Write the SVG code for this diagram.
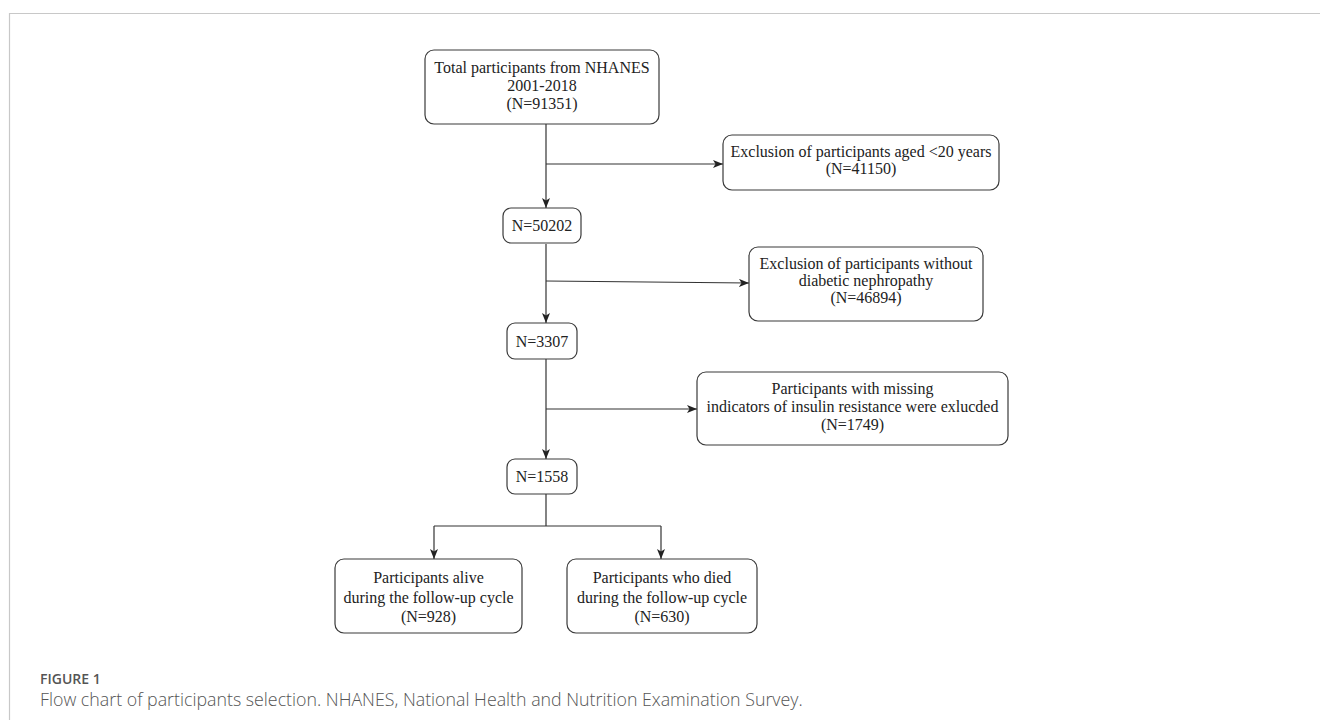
<svg xmlns="http://www.w3.org/2000/svg" width="1320" height="720" viewBox="0 0 1320 720">
<style>
.box{fill:#fff;stroke:#3a3a3a;stroke-width:1.2}
.t{font-family:"Liberation Serif","Times New Roman",serif;font-size:16px;fill:#222;text-anchor:middle}
.c{fill:none;stroke:#333;stroke-width:1.2}
.frame{fill:none;stroke:#c8c8c8;stroke-width:1.2}
.fig{font-family:"Open Sans","Liberation Sans",sans-serif;font-size:14px;font-weight:600;fill:#555}
.cap{font-family:"Open Sans","Liberation Sans",sans-serif;font-size:17.8px;font-weight:300;fill:#555}
</style>
<defs>
<marker id="arr" viewBox="0 0 10 8" refX="10" refY="4" markerWidth="10" markerHeight="8" markerUnits="userSpaceOnUse" orient="auto">
<path d="M0,0 L10,4 L0,8 L2.5,4 z" fill="#222"/>
</marker>
</defs>
<rect width="1320" height="720" fill="#fff"/>
<path class="frame" d="M9.5,720 V13.5 H1320"/>

<g id="connectors">
<line class="c" x1="546" y1="124" x2="546" y2="208" marker-end="url(#arr)"/>
<line class="c" x1="546" y1="164" x2="723" y2="164" marker-end="url(#arr)"/>
<line class="c" x1="546" y1="244" x2="546" y2="323" marker-end="url(#arr)"/>
<line class="c" x1="546" y1="281" x2="749" y2="283" marker-end="url(#arr)"/>
<line class="c" x1="546" y1="359" x2="546" y2="459" marker-end="url(#arr)"/>
<line class="c" x1="546" y1="409" x2="697" y2="409" marker-end="url(#arr)"/>
<path class="c" d="M546,494 V526 M434,526 H661"/>
<line class="c" x1="434" y1="526" x2="434" y2="559" marker-end="url(#arr)"/>
<line class="c" x1="661" y1="526" x2="661" y2="559" marker-end="url(#arr)"/>
</g>

<g id="n_total">
<rect class="box" x="425" y="50" width="234" height="74" rx="9"/>
<text class="t" x="542" y="73">Total participants from NHANES</text>
<text class="t" x="542" y="91">2001-2018</text>
<text class="t" x="542" y="109">(N=91351)</text>
</g>

<g id="n_excl1">
<rect class="box" x="723" y="135" width="276" height="55" rx="9"/>
<text class="t" x="861" y="157">Exclusion of participants aged &lt;20 years</text>
<text class="t" x="861" y="174">(N=41150)</text>
</g>

<g id="n_50202">
<rect class="box" x="503" y="208" width="78" height="35" rx="8"/>
<text class="t" x="542" y="231">N=50202</text>
</g>

<g id="n_excl2">
<rect class="box" x="749" y="247" width="234" height="74" rx="9"/>
<text class="t" x="866" y="269">Exclusion of participants without</text>
<text class="t" x="866" y="286">diabetic nephropathy</text>
<text class="t" x="866" y="303">(N=46894)</text>
</g>

<g id="n_3307">
<rect class="box" x="507" y="323" width="70" height="36" rx="8"/>
<text class="t" x="542" y="346.5">N=3307</text>
</g>

<g id="n_excl3">
<rect class="box" x="697" y="372" width="311" height="73" rx="9"/>
<text class="t" x="852.5" y="394">Participants with missing</text>
<text class="t" x="852.5" y="412">indicators of insulin resistance were exlucded</text>
<text class="t" x="852.5" y="429.5">(N=1749)</text>
</g>

<g id="n_1558">
<rect class="box" x="507" y="459" width="70" height="35" rx="8"/>
<text class="t" x="542" y="482">N=1558</text>
</g>

<g id="n_alive">
<rect class="box" x="335" y="559" width="187" height="74" rx="9"/>
<text class="t" x="428.5" y="583">Participants alive</text>
<text class="t" x="428.5" y="602.5">during the follow-up cycle</text>
<text class="t" x="428.5" y="622">(N=928)</text>
</g>

<g id="n_died">
<rect class="box" x="567" y="559" width="190" height="74" rx="9"/>
<text class="t" x="662" y="583">Participants who died</text>
<text class="t" x="662" y="602.5">during the follow-up cycle</text>
<text class="t" x="662" y="622">(N=630)</text>
</g>

<text class="fig" x="40" y="684">FIGURE 1</text>
<text class="cap" x="40" y="706">Flow chart of participants selection. NHANES, National Health and Nutrition Examination Survey.</text>
</svg>
